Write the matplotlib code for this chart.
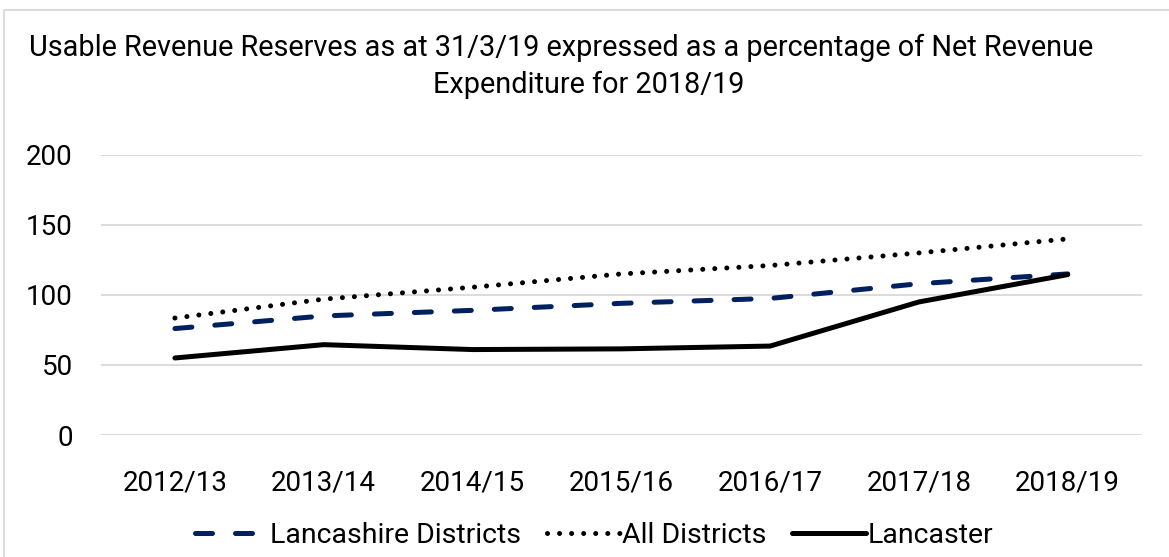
import matplotlib.pyplot as plt
from matplotlib.patches import Rectangle

plt.rcParams['font.family'] = ['Roboto', 'DejaVu Sans']

years = ['2012/13', '2013/14', '2014/15', '2015/16', '2016/17', '2017/18', '2018/19']
lancashire = [76, 85, 89, 94, 97.5, 108, 115]
all_districts = [83.5, 97, 105.5, 115, 121, 130, 140]
lancaster = [55, 64.5, 61, 61.5, 63.5, 95, 114.5]
title_lines = ['Usable Revenue Reserves as at 31/3/19 expressed as a percentage of Net Revenue',
               'Expenditure for 2018/19']

fig = plt.figure(figsize=(11.69, 5.57), dpi=100)
ax = fig.add_axes([0.086, 0.219, 0.891, 0.503])

x = range(len(years))
ax.plot(x, lancashire, color='#002060', lw=3.6, ls=(0, (3.4, 4.6)),
        dash_capstyle='round', label='Lancashire Districts')
ax.plot(x, all_districts, color='black', lw=3.6, ls=(0, (0.01, 2.4)),
        dash_capstyle='round', label='All Districts')
ax.plot(x, lancaster, color='black', lw=3.6, solid_capstyle='round',
        label='Lancaster')

ax.set_xlim(-0.5, 6.5)
ax.set_ylim(0, 200)
ax.set_yticks([0, 50, 100, 150, 200])
ax.set_xticks(list(x))
ax.set_xticklabels(years)
ax.tick_params(axis='both', length=0, labelsize=20, colors='black')
ax.tick_params(axis='x', pad=25)
ax.tick_params(axis='y', pad=20)
ax.grid(axis='y', color='#d9d9d9', lw=1.3)
ax.set_axisbelow(True)
for s in ax.spines.values():
    s.set_visible(False)

# Excel centres each title line on its own, slightly offset
fig.text(561 / 1169, 1 - 48 / 557, title_lines[0], ha='center', va='center', fontsize=20.8)
fig.text(589 / 1169, 1 - 85 / 557, title_lines[1], ha='center', va='center', fontsize=20.8)

ax.legend(loc='center', bbox_to_anchor=(0.474, -0.36), ncol=3, frameon=False,
          fontsize=20.5, handlelength=2.6, columnspacing=0.9, handletextpad=0.05)

fig.patches.append(Rectangle((4 / 1169, -0.1), 1.2, 1 - 10 / 557 + 0.1,
                             transform=fig.transFigure, fill=False,
                             edgecolor='#d9d9d9', lw=1.3))

fig.savefig('out.png', dpi=100)
